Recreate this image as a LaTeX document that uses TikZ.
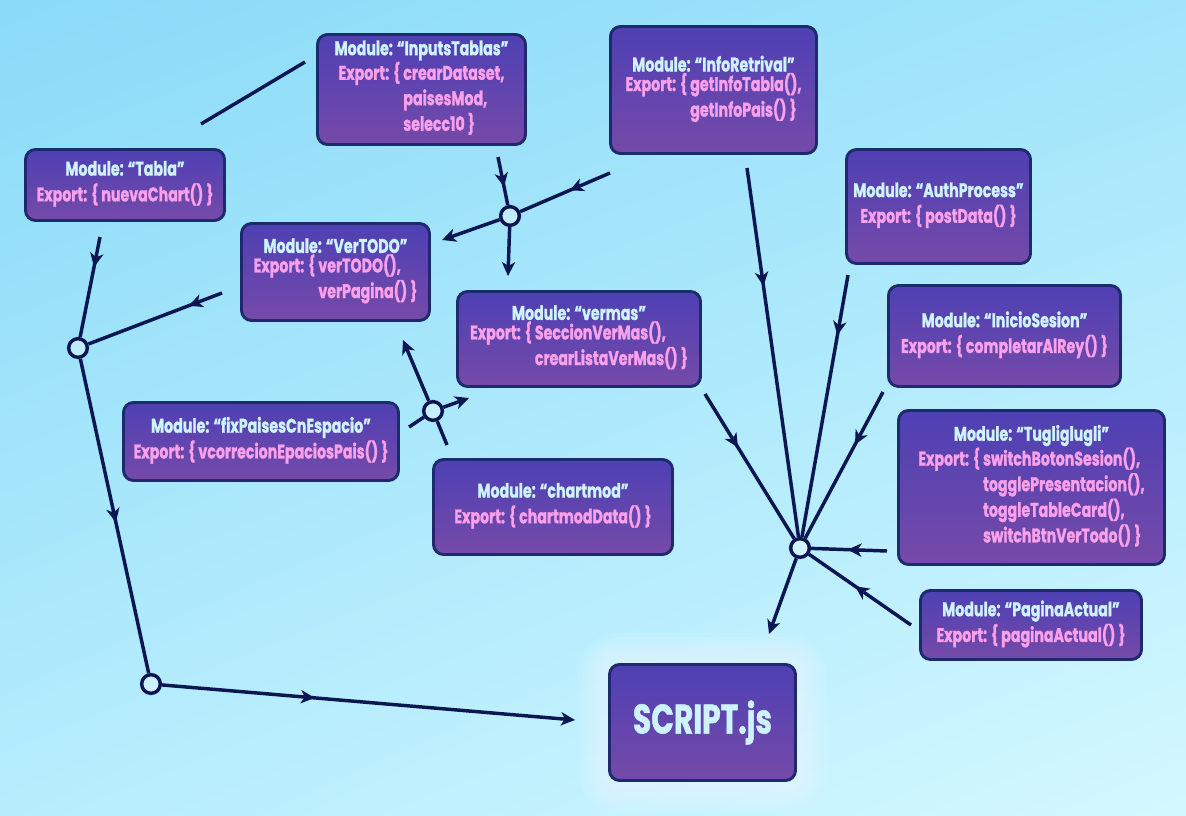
\documentclass[tikz,border=0pt]{standalone}
\usepackage{fontspec}
\setmainfont{Poppins}[FakeStretch=0.72,BoldFeatures={FakeBold=1.2}]
\usetikzlibrary{arrows.meta,decorations.markings,shadings}
\definecolor{bgA}{HTML}{8ADAF8}
\definecolor{bgB}{HTML}{A2E5FB}
\definecolor{bgC}{HTML}{B6EDFD}
\definecolor{bgD}{HTML}{D4F8FF}
\definecolor{boxtop}{HTML}{4E40B4}
\definecolor{boxbot}{HTML}{754AA8}
\definecolor{boxline}{HTML}{1D2B6E}
\definecolor{ttl}{HTML}{CDF3FF}
\definecolor{expc}{HTML}{FBA0EA}
\definecolor{wirec}{HTML}{0C1652}
\newcommand\modtxt[2]{Module: “#1”\\{\color{expc}\begin{tabular}{@{}l@{\ }l@{}}Export: \{ & #2\end{tabular}}}
\tikzset{
  box/.style 2 args={draw=boxline, line width=2.2pt, rounded corners=7.5pt,
    top color=boxtop, bottom color=boxbot, minimum width=#1*0.75pt,
    minimum height=#2*0.75pt, inner sep=0pt, align=center,
    font=\bfseries\fontsize{14.8}{19}\selectfont, text=ttl},
  jn/.style={circle, draw=wirec, line width=2.6pt, minimum size=14pt, inner sep=0pt, fill=white, fill opacity=0.35},
  wire/.style={draw=wirec, line width=2.6pt},
  >={Stealth[length=10.5pt,width=10pt,inset=3pt]},
  midarrow/.style={postaction={decorate}, decoration={markings, mark=at position #1 with {\arrow{>}}}}
}
\begin{document}
\begin{tikzpicture}[x=0.75pt,y=-0.75pt]
\shade[upper left=bgA, upper right=bgB, lower left=bgC, lower right=bgD] (0,0) rectangle (1186,816);
\useasboundingbox (0,0) rectangle (1186,816);
% glow behind SCRIPT.js
\foreach \g in {30,26,22,18,14,10,6}{
  \fill[white, opacity=0.07, rounded corners=\g*0.75pt+8pt] (608-\g,663-\g) rectangle (797+\g,782+\g);
}
\node[box={208}{110}] (inputs) at (421.5,89.5) {\modtxt{InputsTablas}{crearDataset,\\ & paisesMod,\\ & selecc10 \}}};
\node[box={206}{127}] (info) at (713.5,90) {\modtxt{InfoRetrival}{getInfoTabla(),\\ & getInfoPais() \}}};
\node[box={199}{71}] (tabla) at (125,185) {\modtxt{Tabla}{nuevaChart() \}}};
\node[box={184}{114}] (auth) at (938.5,206.5) {\modtxt{AuthProcess}{postData() \}}};
\node[box={188}{97}] (vertodo) at (335.5,272) {\modtxt{VerTODO}{verTODO(),\\ & verPagina() \}}};
\node[box={243}{95}] (vermas) at (579,339) {\modtxt{vermas}{SeccionVerMas(),\\ & crearListaVerMas() \}}};
\node[box={232}{101}] (inicio) at (1004.5,336) {\modtxt{InicioSesion}{completarAlRey() \}}};
\node[box={275}{78}] (fix) at (261,441.5) {\modtxt{fixPaisesCnEspacio}{vcorrecionEpaciosPais() \}}};
\node[box={239}{95}] (chart) at (553,507) {\modtxt{chartmod}{chartmodData() \}}};
\node[box={266}{154}] (tug) at (1031.5,487.5) {\modtxt{Tugliglugli}{switchBotonSesion(),\\ & togglePresentacion(),\\ & toggleTableCard(),\\ & switchBtnVerTodo() \}}};
\node[box={221}{69}] (pagina) at (1031,625) {\modtxt{PaginaActual}{paginaActual() \}}};
\node[box={186}{116}, font=\bfseries\fontsize{31}{33}\selectfont] (script) at (702.5,722.5) {SCRIPT.js};
% junctions
\node[jn] (j1) at (510,216) {};
\node[jn] (j2) at (78,348) {};
\node[jn] (j3) at (151,684) {};
\node[jn] (j4) at (433,411) {};
\node[jn] (j5) at (800,548) {};
% free ends
\coordinate (cinputs) at (498,157);
\coordinate (cinfo) at (610,173);
\coordinate (cvt1) at (442,240);
\coordinate (cvm1) at (508,276);
\coordinate (ctabla) at (100,237);
\coordinate (cvt2) at (222,293);
\coordinate (cscript) at (575,720);
\coordinate (cl1) at (201,124);
\coordinate (cl2) at (305,62);
\coordinate (cvt3) at (403,340);
\coordinate (cvm2) at (469,398);
\coordinate (cfix) at (409,427);
\coordinate (cchart) at (447,445);
\coordinate (cvm3) at (705,394);
\coordinate (cinfo2) at (747,168);
\coordinate (cauth) at (848,275);
\coordinate (cinicio) at (883,392);
\coordinate (ctug) at (887,551);
\coordinate (cpag) at (911,625);
\coordinate (cscript2) at (769,634);
% connectors
\draw[wire, midarrow=0.62] (cinputs) -- (j1);
\draw[wire, midarrow=0.45] (cinfo) -- (j1);
\draw[wire, ->] (j1) -- (cvt1);
\draw[wire, ->] (j1) -- (cvm1);
\draw[wire, midarrow=0.3] (ctabla) -- (j2);
\draw[wire, midarrow=0.25] (cvt2) -- (j2);
\draw[wire, midarrow=0.52] (j2) -- (j3);
\draw[wire, midarrow=0.37, ->] (j3) -- (cscript);
\draw[wire] (cl1) -- (cl2);
\draw[wire, ->] (j4) -- (cvt3);
\draw[wire, ->] (j4) -- (cvm2);
\draw[wire] (cfix) -- (j4);
\draw[wire] (cchart) -- (j4);
\draw[wire, midarrow=0.37] (cvm3) -- (j5);
\draw[wire, midarrow=0.32] (cinfo2) -- (j5);
\draw[wire, midarrow=0.23] (cauth) -- (j5);
\draw[wire, midarrow=0.36] (cinicio) -- (j5);
\draw[wire, midarrow=0.52] (ctug) -- (j5);
\draw[wire, midarrow=0.55] (cpag) -- (j5);
\draw[wire, ->] (j5) -- (cscript2);
\end{tikzpicture}
\end{document}
